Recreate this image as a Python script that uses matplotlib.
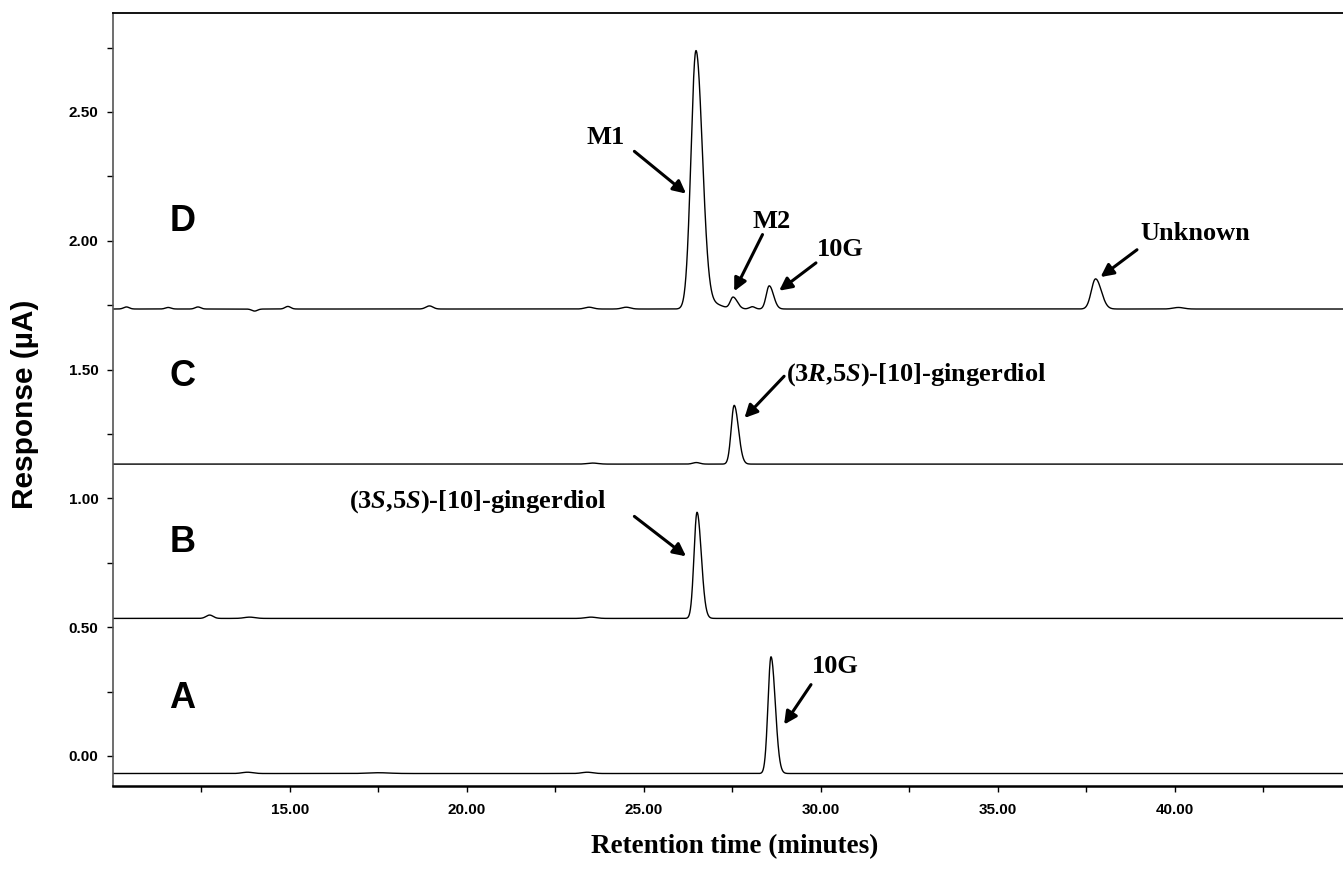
import numpy as np
import matplotlib
matplotlib.use("Agg")
import matplotlib.pyplot as plt
from matplotlib.ticker import FixedLocator

plt.rcParams['mathtext.fontset'] = 'custom'
plt.rcParams['mathtext.rm'] = 'Liberation Serif:bold'
plt.rcParams['mathtext.it'] = 'Liberation Serif:italic:bold'
plt.rcParams['mathtext.bf'] = 'Liberation Serif:bold'

# chromatogram traces (minutes, µA)
trace_names = ["A", "B", "C", "D"]
baselines = [-0.068, 0.534, 1.133, 1.735]

# peak tables per trace: retention time, height above baseline, left/right width
peaks_A_time = [13.8, 17.5, 23.4, 28.59]
peaks_A_height = [0.005, 0.003, 0.005, 0.453]
peaks_A_wl = [0.15, 0.3, 0.15, 0.085]
peaks_A_wr = [0.15, 0.3, 0.15, 0.12]

peaks_B_time = [12.73, 13.86, 23.5, 26.50]
peaks_B_height = [0.013, 0.005, 0.005, 0.412]
peaks_B_wl = [0.1, 0.15, 0.15, 0.085]
peaks_B_wr = [0.1, 0.15, 0.15, 0.12]

peaks_C_time = [23.55, 26.48, 27.55]
peaks_C_height = [0.004, 0.006, 0.228]
peaks_C_wl = [0.15, 0.1, 0.085]
peaks_C_wr = [0.15, 0.1, 0.12]

peaks_D_time = [10.38, 11.56, 12.4, 14.0, 14.94, 18.94, 23.45, 24.5,
                26.47, 26.95, 27.52, 28.06, 28.54, 37.76, 40.1]
peaks_D_height = [0.008, 0.006, 0.008, -0.008, 0.01, 0.012, 0.007, 0.007,
                  1.0, 0.02, 0.045, 0.009, 0.09, 0.117, 0.006]
peaks_D_wl = [0.08, 0.08, 0.08, 0.08, 0.08, 0.1, 0.12, 0.12,
              0.14, 0.25, 0.08, 0.08, 0.085, 0.12, 0.15]
peaks_D_wr = [0.08, 0.08, 0.08, 0.08, 0.08, 0.1, 0.12, 0.12,
              0.18, 0.25, 0.12, 0.08, 0.12, 0.16, 0.15]

peak_tables = [
    (peaks_A_time, peaks_A_height, peaks_A_wl, peaks_A_wr),
    (peaks_B_time, peaks_B_height, peaks_B_wl, peaks_B_wr),
    (peaks_C_time, peaks_C_height, peaks_C_wl, peaks_C_wr),
    (peaks_D_time, peaks_D_height, peaks_D_wl, peaks_D_wr),
]

x_ticks = [15, 20, 25, 30, 35, 40]
y_ticks = [0.0, 0.5, 1.0, 1.5, 2.0, 2.5]


def trace(t, base, times, heights, wl, wr):
    y = np.full_like(t, base)
    for t0, h, sl, sr in zip(times, heights, wl, wr):
        s = np.where(t < t0, sl, sr)
        y += h * np.exp(-0.5 * ((t - t0) / s) ** 2)
    return y


fig = plt.figure(figsize=(13.43, 8.75), dpi=100)
ax = fig.add_axes([113 / 1343, 1 - 786 / 875, 1230 / 1343, 773 / 875])

t = np.linspace(10.0, 44.75, 6000)
for name, base, tbl in zip(trace_names, baselines, peak_tables):
    ax.plot(t, trace(t, base, *tbl), color='black', lw=1.0)

ax.set_xlim(10.0, 44.75)
ax.set_ylim(-0.1165, 2.884)

ax.xaxis.set_major_locator(FixedLocator(x_ticks))
ax.xaxis.set_minor_locator(FixedLocator([v + 2.5 for v in [10] + x_ticks]))
ax.set_xticklabels(["%.2f" % v for v in x_ticks])
ax.yaxis.set_major_locator(FixedLocator(y_ticks))
ax.yaxis.set_minor_locator(FixedLocator([v + 0.25 for v in y_ticks]))
ax.set_yticklabels(["%.2f" % v for v in y_ticks])

ax.tick_params(which='both', direction='out', length=4.5, width=1, colors='black')
ax.tick_params(axis='x', which='major', pad=8)
ax.tick_params(axis='y', which='major', pad=6)
for lab in ax.get_xticklabels() + ax.get_yticklabels():
    lab.set_fontfamily('Liberation Sans')
    lab.set_fontweight('bold')
    lab.set_fontsize(11)

ax.spines['right'].set_visible(False)
ax.spines['bottom'].set_linewidth(1.8)
ax.spines['top'].set_linewidth(1.3)
ax.spines['left'].set_linewidth(1.2)
ax.spines['left'].set_color('#555555')

# trace letters
letter_y = [0.225, 0.830, 1.474, 2.075]
for name, ly in zip(trace_names, letter_y):
    ax.text(11.96, ly, name, fontsize=26, fontweight='bold', family='Liberation Sans',
            ha='center', va='center')

serif = dict(family='Liberation Serif', fontweight='bold', fontsize=19)
arrow = dict(arrowstyle='-|>', color='black', lw=2.2, mutation_scale=19, shrinkA=0, shrinkB=0)

ax.text(23.93, 2.399, "M1", ha='center', va='center', **serif)
ax.annotate('', xy=(26.19, 2.183), xytext=(24.73, 2.347), arrowprops=arrow)

ax.text(28.62, 2.075, "M2", ha='center', va='center', **serif)
ax.annotate('', xy=(27.55, 1.804), xytext=(28.35, 2.024), arrowprops=arrow)

ax.text(30.56, 1.965, "10G", ha='center', va='center', **serif)
ax.annotate('', xy=(28.82, 1.806), xytext=(29.86, 1.914), arrowprops=arrow)

ax.text(40.58, 2.030, "Unknown", ha='center', va='center', **serif)
ax.annotate('', xy=(37.90, 1.859), xytext=(38.93, 1.965), arrowprops=arrow)

ax.text(29.01, 1.480, r"(3$\mathit{R}$,5$\mathit{S}$)-[10]-gingerdiol",
        ha='left', va='center', **serif)
ax.annotate('', xy=(27.84, 1.312), xytext=(28.96, 1.474), arrowprops=arrow)

ax.text(23.93, 0.988, r"(3$\mathit{S}$,5$\mathit{S}$)-[10]-gingerdiol",
        ha='right', va='center', **serif)
ax.annotate('', xy=(26.19, 0.775), xytext=(24.73, 0.930), arrowprops=arrow)

ax.text(30.42, 0.348, "10G", ha='center', va='center', **serif)
ax.annotate('', xy=(28.96, 0.122), xytext=(29.72, 0.277), arrowprops=arrow)

fig.text(25 / 1343, 1 - 404 / 875, "Response (µA)", rotation=90, ha='center', va='center',
         family='Liberation Sans', fontweight='bold', fontsize=21.5)
fig.text(734.5 / 1343, 1 - 847 / 875, "Retention time (minutes)", ha='center', va='center',
         family='Liberation Serif', fontweight='bold', fontsize=19.5)

fig.savefig("out.png", dpi=100)
